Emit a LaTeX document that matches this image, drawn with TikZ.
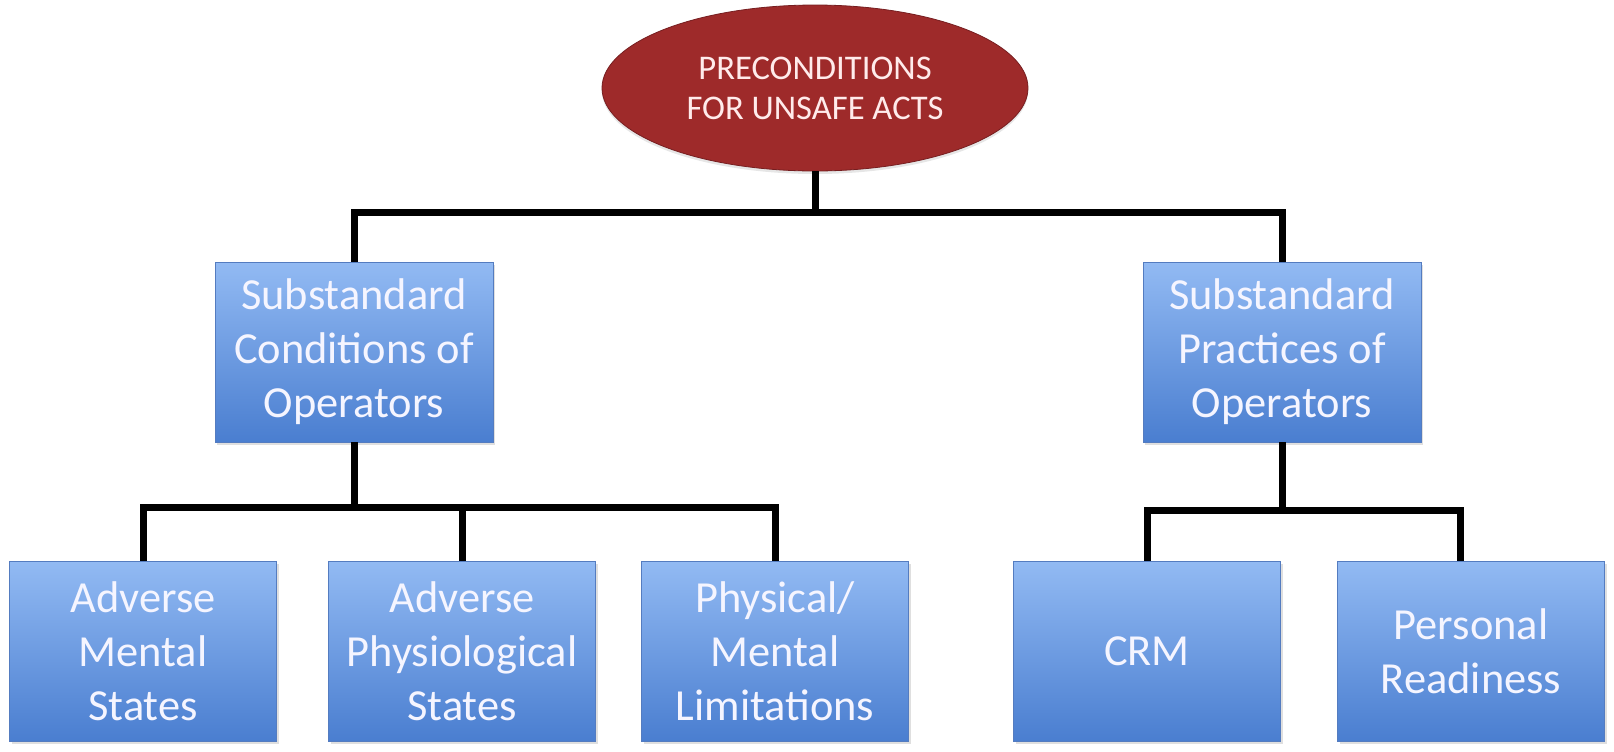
\documentclass[tikz,border=0pt]{standalone}
\usepackage{fontspec}
\setmainfont{Carlito}
\usetikzlibrary{shapes.geometric,shadows,positioning}
\definecolor{hfred}{RGB}{158,42,42}
\definecolor{hfredline}{RGB}{118,30,32}
\definecolor{hfbluetop}{RGB}{146,186,243}
\definecolor{hfblue}{RGB}{74,126,208}
\definecolor{hfblueline}{RGB}{84,124,192}
\tikzset{
rootnode/.style = {draw=hfredline, fill=hfred, ellipse, minimum width=213pt, minimum height=83pt, inner sep=0pt, align=center, text=red!8, font=\fontsize{17.3}{20}\selectfont, drop shadow={opacity=0.2, shadow xshift=0pt, shadow yshift=-1.5pt}},
block/.style = {draw=hfblueline, rectangle, top color=hfbluetop, bottom color=hfblue, text=blue!4, align=center, minimum height=90pt, minimum width=133.5pt, inner sep=2pt, font=\fontsize{22.2}{27}\selectfont, drop shadow={opacity=0.25, shadow xshift=1pt, shadow yshift=-1.5pt}},
wideblock/.style = {block, minimum width=139pt},
tmp/.style = {coordinate},
link/.style = {draw, line width=3.5pt, line join=miter}
}
\begin{document}
\begin{tikzpicture}[x=0.5pt, y=-0.5pt]
  \useasboundingbox (0,0) rectangle (1614,751);

  % tree
  \node [rootnode]  (root)     at (815,88)     {PRECONDITIONS\\FOR UNSAFE ACTS};
  \node [wideblock] (cond)     at (354,352)    {Substandard\\Conditions of\\Operators};
  \node [wideblock] (prac)     at (1282,352)   {Substandard\\Practices of\\Operators};
  \node [block]     (mental)   at (143,651)    {Adverse\\Mental\\States};
  \node [block]     (physio)   at (462,651)    {Adverse\\Physiological\\States};
  \node [block]     (limit)    at (775,651)    {Physical/\\Mental\\Limitations};
  \node [block]     (crm)      at (1147,651)   {CRM};
  \node [block]     (ready)    at (1471,651)   {Personal\\Readiness};

  \node [tmp]       (rootbar)  at (815,212)    {};
  \node [tmp]       (condbar)  at (354,507)    {};
  \node [tmp]       (pracbar)  at (1280,510)   {};

  \draw [link] (root.south) -- (rootbar);
  \draw [link] (cond.north) |- (rootbar) -| (prac.north);
  \draw [link] (cond.south) -- (condbar);
  \draw [link] (mental.north) |- (condbar) -| (limit.north);
  \draw [link] (physio.north) -- (physio.north |- condbar);
  \draw [link] (prac.south) -- (prac.south |- pracbar);
  \draw [link] (crm.north) |- (pracbar) -| ([xshift=-5.5pt]ready.north);
\end{tikzpicture}
\end{document}
